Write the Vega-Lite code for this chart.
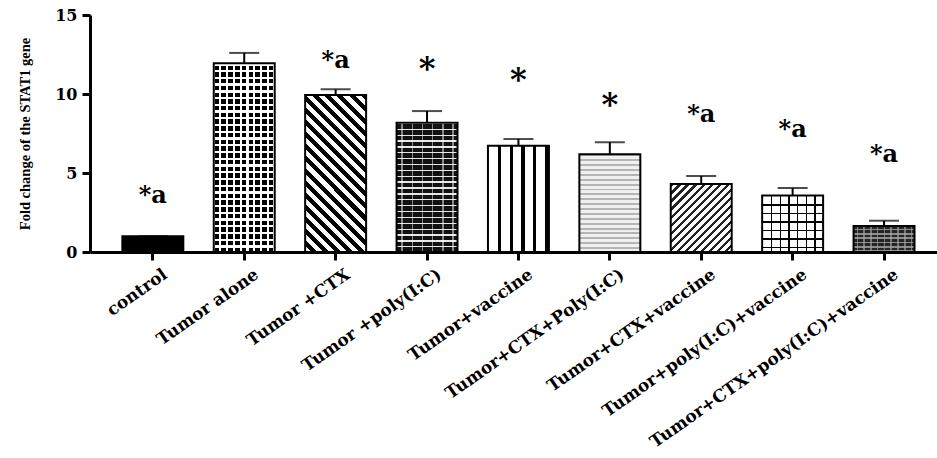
{
  "$schema": "https://vega.github.io/schema/vega-lite/v6.json",
  "width": 847,
  "height": 237,
  "autosize": "none",
  "padding": {"left": 90, "top": 15, "right": 0, "bottom": 206},
  "background": "white",
  "config": {"view": {"stroke": null}},
  "data": {
    "values": [
      {"group": "control", "value": 1.0, "upper": 1.0, "sig": "*a", "sig_y": 3.08},
      {"group": "Tumor alone", "value": 11.95, "upper": 12.6, "sig": "", "sig_y": null},
      {"group": "Tumor +CTX", "value": 9.94, "upper": 10.3, "sig": "*a", "sig_y": 11.63},
      {"group": "Tumor +poly(I:C)", "value": 8.18, "upper": 8.92, "sig": "*", "sig_y": 10.97},
      {"group": "Tumor+vaccine", "value": 6.73, "upper": 7.15, "sig": "*", "sig_y": 10.23},
      {"group": "Tumor+CTX+Poly(I:C)", "value": 6.18, "upper": 6.94, "sig": "*", "sig_y": 8.65},
      {"group": "Tumor+CTX+vaccine", "value": 4.3, "upper": 4.81, "sig": "*a", "sig_y": 8.25},
      {"group": "Tumor+poly(I:C)+vaccine", "value": 3.57, "upper": 4.05, "sig": "*a", "sig_y": 7.3},
      {"group": "Tumor+CTX+poly(I:C)+vaccine", "value": 1.65, "upper": 1.98, "sig": "*a", "sig_y": 5.7}
    ]
  },
  "encoding": {
    "x": {
      "field": "group",
      "type": "nominal",
      "scale": {
        "domain": ["control", "Tumor alone", "Tumor +CTX", "Tumor +poly(I:C)", "Tumor+vaccine", "Tumor+CTX+Poly(I:C)", "Tumor+CTX+vaccine", "Tumor+poly(I:C)+vaccine", "Tumor+CTX+poly(I:C)+vaccine"],
        "paddingInner": 0.333,
        "paddingOuter": 0.3,
        "align": 0.59
      },
      "axis": {
        "title": null,
        "labelAngle": -35,
        "labelAlign": "right",
        "labelBaseline": "top",
        "labelPadding": 6,
        "labelOffset": 8,
        "labelFont": "DejaVu Serif",
        "labelFontWeight": "bold",
        "labelFontSize": 17,
        "labelColor": "black",
        "labelLimit": 0,
        "labelOverlap": false,
        "tickSize": 8,
        "tickWidth": 3,
        "tickColor": "black",
        "domainColor": "black",
        "domainWidth": 3
      }
    },
    "y": {
      "field": "value",
      "type": "quantitative",
      "title": "Fold change of the STAT1 gene",
      "scale": {"domain": [0, 15], "nice": false},
      "axis": {
        "values": [0, 5, 10, 15],
        "grid": false,
        "tickSize": 8,
        "tickWidth": 3,
        "tickColor": "black",
        "domainColor": "black",
        "domainWidth": 3,
        "labelFont": "DejaVu Serif",
        "labelFontWeight": "bold",
        "labelFontSize": 16,
        "labelColor": "black",
        "labelPadding": 5,
        "titleFont": "Liberation Serif",
        "titleFontWeight": "bold",
        "titleFontSize": 14.5,
        "titleColor": "black",
        "titlePadding": 22
      }
    }
  },
  "layer": [
    {
      "transform": [{"filter": "datum.group === 'control'"}],
      "mark": {"type": "bar", "fill": "#000", "strokeWidth": 0}
    },
    {
      "transform": [{"filter": "datum.group === 'Tumor alone'"}],
      "mark": {"type": "bar", "strokeWidth": 0, "fill": {"gradient": "linear", "x1": 0, "y1": 0, "x2": 1, "y2": 0, "stops": [
        {"offset": 0, "color": "#fff"},
        {"offset": 0.015, "color": "#fff"}, {"offset": 0.015, "color": "#000"}, {"offset": 0.09, "color": "#000"}, {"offset": 0.09, "color": "#fff"},
        {"offset": 0.1261, "color": "#fff"}, {"offset": 0.1261, "color": "#000"}, {"offset": 0.2011, "color": "#000"}, {"offset": 0.2011, "color": "#fff"},
        {"offset": 0.2372, "color": "#fff"}, {"offset": 0.2372, "color": "#000"}, {"offset": 0.3122, "color": "#000"}, {"offset": 0.3122, "color": "#fff"},
        {"offset": 0.3483, "color": "#fff"}, {"offset": 0.3483, "color": "#000"}, {"offset": 0.4233, "color": "#000"}, {"offset": 0.4233, "color": "#fff"},
        {"offset": 0.4594, "color": "#fff"}, {"offset": 0.4594, "color": "#000"}, {"offset": 0.5344, "color": "#000"}, {"offset": 0.5344, "color": "#fff"},
        {"offset": 0.5706, "color": "#fff"}, {"offset": 0.5706, "color": "#000"}, {"offset": 0.6456, "color": "#000"}, {"offset": 0.6456, "color": "#fff"},
        {"offset": 0.6817, "color": "#fff"}, {"offset": 0.6817, "color": "#000"}, {"offset": 0.7567, "color": "#000"}, {"offset": 0.7567, "color": "#fff"},
        {"offset": 0.7928, "color": "#fff"}, {"offset": 0.7928, "color": "#000"}, {"offset": 0.8678, "color": "#000"}, {"offset": 0.8678, "color": "#fff"},
        {"offset": 0.9039, "color": "#fff"}, {"offset": 0.9039, "color": "#000"}, {"offset": 0.9789, "color": "#000"}, {"offset": 0.9789, "color": "#fff"},
        {"offset": 1, "color": "#fff"}
      ]}}
    },
    {
      "transform": [{"filter": "datum.group === 'Tumor alone'"}],
      "mark": {"type": "bar", "strokeWidth": 0, "fill": {"gradient": "linear", "x1": 0, "y1": 0, "x2": 0, "y2": 1, "stops": [
        {"offset": 0, "color": "#fff"}, {"offset": 0.0125, "color": "#fff"}, {"offset": 0.0125, "color": "rgba(255,255,255,0)"}, {"offset": 0.0357, "color": "rgba(255,255,255,0)"},
        {"offset": 0.0357, "color": "#fff"}, {"offset": 0.0482, "color": "#fff"}, {"offset": 0.0482, "color": "rgba(255,255,255,0)"}, {"offset": 0.0714, "color": "rgba(255,255,255,0)"},
        {"offset": 0.0714, "color": "#fff"}, {"offset": 0.0839, "color": "#fff"}, {"offset": 0.0839, "color": "rgba(255,255,255,0)"}, {"offset": 0.1071, "color": "rgba(255,255,255,0)"},
        {"offset": 0.1071, "color": "#fff"}, {"offset": 0.1196, "color": "#fff"}, {"offset": 0.1196, "color": "rgba(255,255,255,0)"}, {"offset": 0.1429, "color": "rgba(255,255,255,0)"},
        {"offset": 0.1429, "color": "#fff"}, {"offset": 0.1554, "color": "#fff"}, {"offset": 0.1554, "color": "rgba(255,255,255,0)"}, {"offset": 0.1786, "color": "rgba(255,255,255,0)"},
        {"offset": 0.1786, "color": "#fff"}, {"offset": 0.1911, "color": "#fff"}, {"offset": 0.1911, "color": "rgba(255,255,255,0)"}, {"offset": 0.2143, "color": "rgba(255,255,255,0)"},
        {"offset": 0.2143, "color": "#fff"}, {"offset": 0.2268, "color": "#fff"}, {"offset": 0.2268, "color": "rgba(255,255,255,0)"}, {"offset": 0.25, "color": "rgba(255,255,255,0)"},
        {"offset": 0.25, "color": "#fff"}, {"offset": 0.2625, "color": "#fff"}, {"offset": 0.2625, "color": "rgba(255,255,255,0)"}, {"offset": 0.2857, "color": "rgba(255,255,255,0)"},
        {"offset": 0.2857, "color": "#fff"}, {"offset": 0.2982, "color": "#fff"}, {"offset": 0.2982, "color": "rgba(255,255,255,0)"}, {"offset": 0.3214, "color": "rgba(255,255,255,0)"},
        {"offset": 0.3214, "color": "#fff"}, {"offset": 0.3339, "color": "#fff"}, {"offset": 0.3339, "color": "rgba(255,255,255,0)"}, {"offset": 0.3571, "color": "rgba(255,255,255,0)"},
        {"offset": 0.3571, "color": "#fff"}, {"offset": 0.3696, "color": "#fff"}, {"offset": 0.3696, "color": "rgba(255,255,255,0)"}, {"offset": 0.3929, "color": "rgba(255,255,255,0)"},
        {"offset": 0.3929, "color": "#fff"}, {"offset": 0.4054, "color": "#fff"}, {"offset": 0.4054, "color": "rgba(255,255,255,0)"}, {"offset": 0.4286, "color": "rgba(255,255,255,0)"},
        {"offset": 0.4286, "color": "#fff"}, {"offset": 0.4411, "color": "#fff"}, {"offset": 0.4411, "color": "rgba(255,255,255,0)"}, {"offset": 0.4643, "color": "rgba(255,255,255,0)"},
        {"offset": 0.4643, "color": "#fff"}, {"offset": 0.4768, "color": "#fff"}, {"offset": 0.4768, "color": "rgba(255,255,255,0)"}, {"offset": 0.5, "color": "rgba(255,255,255,0)"},
        {"offset": 0.5, "color": "#fff"}, {"offset": 0.5125, "color": "#fff"}, {"offset": 0.5125, "color": "rgba(255,255,255,0)"}, {"offset": 0.5357, "color": "rgba(255,255,255,0)"},
        {"offset": 0.5357, "color": "#fff"}, {"offset": 0.5482, "color": "#fff"}, {"offset": 0.5482, "color": "rgba(255,255,255,0)"}, {"offset": 0.5714, "color": "rgba(255,255,255,0)"},
        {"offset": 0.5714, "color": "#fff"}, {"offset": 0.5839, "color": "#fff"}, {"offset": 0.5839, "color": "rgba(255,255,255,0)"}, {"offset": 0.6071, "color": "rgba(255,255,255,0)"},
        {"offset": 0.6071, "color": "#fff"}, {"offset": 0.6196, "color": "#fff"}, {"offset": 0.6196, "color": "rgba(255,255,255,0)"}, {"offset": 0.6429, "color": "rgba(255,255,255,0)"},
        {"offset": 0.6429, "color": "#fff"}, {"offset": 0.6554, "color": "#fff"}, {"offset": 0.6554, "color": "rgba(255,255,255,0)"}, {"offset": 0.6786, "color": "rgba(255,255,255,0)"},
        {"offset": 0.6786, "color": "#fff"}, {"offset": 0.6911, "color": "#fff"}, {"offset": 0.6911, "color": "rgba(255,255,255,0)"}, {"offset": 0.7143, "color": "rgba(255,255,255,0)"},
        {"offset": 0.7143, "color": "#fff"}, {"offset": 0.7268, "color": "#fff"}, {"offset": 0.7268, "color": "rgba(255,255,255,0)"}, {"offset": 0.75, "color": "rgba(255,255,255,0)"},
        {"offset": 0.75, "color": "#fff"}, {"offset": 0.7625, "color": "#fff"}, {"offset": 0.7625, "color": "rgba(255,255,255,0)"}, {"offset": 0.7857, "color": "rgba(255,255,255,0)"},
        {"offset": 0.7857, "color": "#fff"}, {"offset": 0.7982, "color": "#fff"}, {"offset": 0.7982, "color": "rgba(255,255,255,0)"}, {"offset": 0.8214, "color": "rgba(255,255,255,0)"},
        {"offset": 0.8214, "color": "#fff"}, {"offset": 0.8339, "color": "#fff"}, {"offset": 0.8339, "color": "rgba(255,255,255,0)"}, {"offset": 0.8571, "color": "rgba(255,255,255,0)"},
        {"offset": 0.8571, "color": "#fff"}, {"offset": 0.8696, "color": "#fff"}, {"offset": 0.8696, "color": "rgba(255,255,255,0)"}, {"offset": 0.8929, "color": "rgba(255,255,255,0)"},
        {"offset": 0.8929, "color": "#fff"}, {"offset": 0.9054, "color": "#fff"}, {"offset": 0.9054, "color": "rgba(255,255,255,0)"}, {"offset": 0.9286, "color": "rgba(255,255,255,0)"},
        {"offset": 0.9286, "color": "#fff"}, {"offset": 0.9411, "color": "#fff"}, {"offset": 0.9411, "color": "rgba(255,255,255,0)"}, {"offset": 0.9643, "color": "rgba(255,255,255,0)"},
        {"offset": 0.9643, "color": "#fff"}, {"offset": 0.9768, "color": "#fff"}, {"offset": 0.9768, "color": "rgba(255,255,255,0)"}, {"offset": 1, "color": "rgba(255,255,255,0)"}
      ]}}
    },
    {
      "transform": [{"filter": "datum.group === 'Tumor +CTX'"}],
      "mark": {"type": "bar", "strokeWidth": 0, "fill": {"gradient": "linear", "x1": 1, "y1": 0, "x2": 0.5313, "y2": 1.2064, "stops": [
        {"offset": 0, "color": "#000"}, {"offset": 0.0278, "color": "#000"}, {"offset": 0.0278, "color": "#fff"}, {"offset": 0.0556, "color": "#fff"},
        {"offset": 0.0556, "color": "#000"}, {"offset": 0.0833, "color": "#000"}, {"offset": 0.0833, "color": "#fff"}, {"offset": 0.1111, "color": "#fff"},
        {"offset": 0.1111, "color": "#000"}, {"offset": 0.1389, "color": "#000"}, {"offset": 0.1389, "color": "#fff"}, {"offset": 0.1667, "color": "#fff"},
        {"offset": 0.1667, "color": "#000"}, {"offset": 0.1944, "color": "#000"}, {"offset": 0.1944, "color": "#fff"}, {"offset": 0.2222, "color": "#fff"},
        {"offset": 0.2222, "color": "#000"}, {"offset": 0.25, "color": "#000"}, {"offset": 0.25, "color": "#fff"}, {"offset": 0.2778, "color": "#fff"},
        {"offset": 0.2778, "color": "#000"}, {"offset": 0.3056, "color": "#000"}, {"offset": 0.3056, "color": "#fff"}, {"offset": 0.3333, "color": "#fff"},
        {"offset": 0.3333, "color": "#000"}, {"offset": 0.3611, "color": "#000"}, {"offset": 0.3611, "color": "#fff"}, {"offset": 0.3889, "color": "#fff"},
        {"offset": 0.3889, "color": "#000"}, {"offset": 0.4167, "color": "#000"}, {"offset": 0.4167, "color": "#fff"}, {"offset": 0.4444, "color": "#fff"},
        {"offset": 0.4444, "color": "#000"}, {"offset": 0.4722, "color": "#000"}, {"offset": 0.4722, "color": "#fff"}, {"offset": 0.5, "color": "#fff"},
        {"offset": 0.5, "color": "#000"}, {"offset": 0.5278, "color": "#000"}, {"offset": 0.5278, "color": "#fff"}, {"offset": 0.5556, "color": "#fff"},
        {"offset": 0.5556, "color": "#000"}, {"offset": 0.5833, "color": "#000"}, {"offset": 0.5833, "color": "#fff"}, {"offset": 0.6111, "color": "#fff"},
        {"offset": 0.6111, "color": "#000"}, {"offset": 0.6389, "color": "#000"}, {"offset": 0.6389, "color": "#fff"}, {"offset": 0.6667, "color": "#fff"},
        {"offset": 0.6667, "color": "#000"}, {"offset": 0.6944, "color": "#000"}, {"offset": 0.6944, "color": "#fff"}, {"offset": 0.7222, "color": "#fff"},
        {"offset": 0.7222, "color": "#000"}, {"offset": 0.75, "color": "#000"}, {"offset": 0.75, "color": "#fff"}, {"offset": 0.7778, "color": "#fff"},
        {"offset": 0.7778, "color": "#000"}, {"offset": 0.8056, "color": "#000"}, {"offset": 0.8056, "color": "#fff"}, {"offset": 0.8333, "color": "#fff"},
        {"offset": 0.8333, "color": "#000"}, {"offset": 0.8611, "color": "#000"}, {"offset": 0.8611, "color": "#fff"}, {"offset": 0.8889, "color": "#fff"},
        {"offset": 0.8889, "color": "#000"}, {"offset": 0.9167, "color": "#000"}, {"offset": 0.9167, "color": "#fff"}, {"offset": 0.9444, "color": "#fff"},
        {"offset": 0.9444, "color": "#000"}, {"offset": 0.9722, "color": "#000"}, {"offset": 0.9722, "color": "#fff"}, {"offset": 1, "color": "#fff"}
      ]}}
    },
    {
      "transform": [{"filter": "datum.group === 'Tumor +poly(I:C)'"}],
      "mark": {"type": "bar", "strokeWidth": 0, "fill": {"gradient": "linear", "x1": 0, "y1": 0, "x2": 0, "y2": 1, "stops": [
        {"offset": 0, "color": "#e6e6e6"}, {"offset": 0.0105, "color": "#e6e6e6"}, {"offset": 0.0105, "color": "#111"}, {"offset": 0.0455, "color": "#111"},
        {"offset": 0.0455, "color": "#e6e6e6"}, {"offset": 0.056, "color": "#e6e6e6"}, {"offset": 0.056, "color": "#111"}, {"offset": 0.0909, "color": "#111"},
        {"offset": 0.0909, "color": "#e6e6e6"}, {"offset": 0.1014, "color": "#e6e6e6"}, {"offset": 0.1014, "color": "#111"}, {"offset": 0.1364, "color": "#111"},
        {"offset": 0.1364, "color": "#e6e6e6"}, {"offset": 0.1469, "color": "#e6e6e6"}, {"offset": 0.1469, "color": "#111"}, {"offset": 0.1818, "color": "#111"},
        {"offset": 0.1818, "color": "#e6e6e6"}, {"offset": 0.1923, "color": "#e6e6e6"}, {"offset": 0.1923, "color": "#111"}, {"offset": 0.2273, "color": "#111"},
        {"offset": 0.2273, "color": "#e6e6e6"}, {"offset": 0.2378, "color": "#e6e6e6"}, {"offset": 0.2378, "color": "#111"}, {"offset": 0.2727, "color": "#111"},
        {"offset": 0.2727, "color": "#e6e6e6"}, {"offset": 0.2832, "color": "#e6e6e6"}, {"offset": 0.2832, "color": "#111"}, {"offset": 0.3182, "color": "#111"},
        {"offset": 0.3182, "color": "#e6e6e6"}, {"offset": 0.3287, "color": "#e6e6e6"}, {"offset": 0.3287, "color": "#111"}, {"offset": 0.3636, "color": "#111"},
        {"offset": 0.3636, "color": "#e6e6e6"}, {"offset": 0.3741, "color": "#e6e6e6"}, {"offset": 0.3741, "color": "#111"}, {"offset": 0.4091, "color": "#111"},
        {"offset": 0.4091, "color": "#e6e6e6"}, {"offset": 0.4196, "color": "#e6e6e6"}, {"offset": 0.4196, "color": "#111"}, {"offset": 0.4545, "color": "#111"},
        {"offset": 0.4545, "color": "#e6e6e6"}, {"offset": 0.465, "color": "#e6e6e6"}, {"offset": 0.465, "color": "#111"}, {"offset": 0.5, "color": "#111"},
        {"offset": 0.5, "color": "#e6e6e6"}, {"offset": 0.5105, "color": "#e6e6e6"}, {"offset": 0.5105, "color": "#111"}, {"offset": 0.5455, "color": "#111"},
        {"offset": 0.5455, "color": "#e6e6e6"}, {"offset": 0.556, "color": "#e6e6e6"}, {"offset": 0.556, "color": "#111"}, {"offset": 0.5909, "color": "#111"},
        {"offset": 0.5909, "color": "#e6e6e6"}, {"offset": 0.6014, "color": "#e6e6e6"}, {"offset": 0.6014, "color": "#111"}, {"offset": 0.6364, "color": "#111"},
        {"offset": 0.6364, "color": "#e6e6e6"}, {"offset": 0.6469, "color": "#e6e6e6"}, {"offset": 0.6469, "color": "#111"}, {"offset": 0.6818, "color": "#111"},
        {"offset": 0.6818, "color": "#e6e6e6"}, {"offset": 0.6923, "color": "#e6e6e6"}, {"offset": 0.6923, "color": "#111"}, {"offset": 0.7273, "color": "#111"},
        {"offset": 0.7273, "color": "#e6e6e6"}, {"offset": 0.7378, "color": "#e6e6e6"}, {"offset": 0.7378, "color": "#111"}, {"offset": 0.7727, "color": "#111"},
        {"offset": 0.7727, "color": "#e6e6e6"}, {"offset": 0.7832, "color": "#e6e6e6"}, {"offset": 0.7832, "color": "#111"}, {"offset": 0.8182, "color": "#111"},
        {"offset": 0.8182, "color": "#e6e6e6"}, {"offset": 0.8287, "color": "#e6e6e6"}, {"offset": 0.8287, "color": "#111"}, {"offset": 0.8636, "color": "#111"},
        {"offset": 0.8636, "color": "#e6e6e6"}, {"offset": 0.8741, "color": "#e6e6e6"}, {"offset": 0.8741, "color": "#111"}, {"offset": 0.9091, "color": "#111"},
        {"offset": 0.9091, "color": "#e6e6e6"}, {"offset": 0.9196, "color": "#e6e6e6"}, {"offset": 0.9196, "color": "#111"}, {"offset": 0.9545, "color": "#111"},
        {"offset": 0.9545, "color": "#e6e6e6"}, {"offset": 0.965, "color": "#e6e6e6"}, {"offset": 0.965, "color": "#111"}, {"offset": 1, "color": "#111"}
      ]}}
    },
    {
      "transform": [{"filter": "datum.group === 'Tumor +poly(I:C)'"}],
      "mark": {"type": "bar", "strokeWidth": 0, "fill": {"gradient": "linear", "x1": 0, "y1": 0, "x2": 1, "y2": 0, "stops": [
        {"offset": 0, "color": "rgba(255,255,255,0)"},
        {"offset": 0.08, "color": "rgba(255,255,255,0)"}, {"offset": 0.08, "color": "rgba(255,255,255,0.5)"}, {"offset": 0.105, "color": "rgba(255,255,255,0.5)"}, {"offset": 0.105, "color": "rgba(255,255,255,0)"},
        {"offset": 0.247, "color": "rgba(255,255,255,0)"}, {"offset": 0.247, "color": "rgba(255,255,255,0.5)"}, {"offset": 0.272, "color": "rgba(255,255,255,0.5)"}, {"offset": 0.272, "color": "rgba(255,255,255,0)"},
        {"offset": 0.413, "color": "rgba(255,255,255,0)"}, {"offset": 0.413, "color": "rgba(255,255,255,0.5)"}, {"offset": 0.438, "color": "rgba(255,255,255,0.5)"}, {"offset": 0.438, "color": "rgba(255,255,255,0)"},
        {"offset": 0.58, "color": "rgba(255,255,255,0)"}, {"offset": 0.58, "color": "rgba(255,255,255,0.5)"}, {"offset": 0.605, "color": "rgba(255,255,255,0.5)"}, {"offset": 0.605, "color": "rgba(255,255,255,0)"},
        {"offset": 0.747, "color": "rgba(255,255,255,0)"}, {"offset": 0.747, "color": "rgba(255,255,255,0.5)"}, {"offset": 0.772, "color": "rgba(255,255,255,0.5)"}, {"offset": 0.772, "color": "rgba(255,255,255,0)"},
        {"offset": 0.913, "color": "rgba(255,255,255,0)"}, {"offset": 0.913, "color": "rgba(255,255,255,0.5)"}, {"offset": 0.938, "color": "rgba(255,255,255,0.5)"}, {"offset": 0.938, "color": "rgba(255,255,255,0)"},
        {"offset": 1, "color": "rgba(255,255,255,0)"}
      ]}}
    },
    {
      "transform": [{"filter": "datum.group === 'Tumor+vaccine'"}],
      "mark": {"type": "bar", "strokeWidth": 0, "fill": {"gradient": "linear", "x1": 0, "y1": 0, "x2": 1, "y2": 0, "stops": [
        {"offset": 0, "color": "#fff"},
        {"offset": 0.164, "color": "#fff"}, {"offset": 0.164, "color": "#000"}, {"offset": 0.219, "color": "#000"}, {"offset": 0.219, "color": "#fff"},
        {"offset": 0.355, "color": "#fff"}, {"offset": 0.355, "color": "#000"}, {"offset": 0.41, "color": "#000"}, {"offset": 0.41, "color": "#fff"},
        {"offset": 0.546, "color": "#fff"}, {"offset": 0.546, "color": "#000"}, {"offset": 0.601, "color": "#000"}, {"offset": 0.601, "color": "#fff"},
        {"offset": 0.738, "color": "#fff"}, {"offset": 0.738, "color": "#000"}, {"offset": 0.792, "color": "#000"}, {"offset": 0.792, "color": "#fff"},
        {"offset": 0.93, "color": "#fff"}, {"offset": 0.93, "color": "#000"}, {"offset": 0.984, "color": "#000"}, {"offset": 0.984, "color": "#fff"},
        {"offset": 1, "color": "#fff"}
      ]}}
    },
    {
      "transform": [{"filter": "datum.group === 'Tumor+CTX+Poly(I:C)'"}],
      "mark": {"type": "bar", "strokeWidth": 0, "fill": {"gradient": "linear", "x1": 0, "y1": 0, "x2": 0, "y2": 1, "stops": [
        {"offset": 0, "color": "#b4b4b4"}, {"offset": 0.02, "color": "#b4b4b4"}, {"offset": 0.02, "color": "#f0f0f0"}, {"offset": 0.05, "color": "#f0f0f0"},
        {"offset": 0.05, "color": "#b4b4b4"}, {"offset": 0.07, "color": "#b4b4b4"}, {"offset": 0.07, "color": "#f0f0f0"}, {"offset": 0.1, "color": "#f0f0f0"},
        {"offset": 0.1, "color": "#b4b4b4"}, {"offset": 0.12, "color": "#b4b4b4"}, {"offset": 0.12, "color": "#f0f0f0"}, {"offset": 0.15, "color": "#f0f0f0"},
        {"offset": 0.15, "color": "#b4b4b4"}, {"offset": 0.17, "color": "#b4b4b4"}, {"offset": 0.17, "color": "#f0f0f0"}, {"offset": 0.2, "color": "#f0f0f0"},
        {"offset": 0.2, "color": "#b4b4b4"}, {"offset": 0.22, "color": "#b4b4b4"}, {"offset": 0.22, "color": "#f0f0f0"}, {"offset": 0.25, "color": "#f0f0f0"},
        {"offset": 0.25, "color": "#b4b4b4"}, {"offset": 0.27, "color": "#b4b4b4"}, {"offset": 0.27, "color": "#f0f0f0"}, {"offset": 0.3, "color": "#f0f0f0"},
        {"offset": 0.3, "color": "#b4b4b4"}, {"offset": 0.32, "color": "#b4b4b4"}, {"offset": 0.32, "color": "#f0f0f0"}, {"offset": 0.35, "color": "#f0f0f0"},
        {"offset": 0.35, "color": "#b4b4b4"}, {"offset": 0.37, "color": "#b4b4b4"}, {"offset": 0.37, "color": "#f0f0f0"}, {"offset": 0.4, "color": "#f0f0f0"},
        {"offset": 0.4, "color": "#b4b4b4"}, {"offset": 0.42, "color": "#b4b4b4"}, {"offset": 0.42, "color": "#f0f0f0"}, {"offset": 0.45, "color": "#f0f0f0"},
        {"offset": 0.45, "color": "#b4b4b4"}, {"offset": 0.47, "color": "#b4b4b4"}, {"offset": 0.47, "color": "#f0f0f0"}, {"offset": 0.5, "color": "#f0f0f0"},
        {"offset": 0.5, "color": "#b4b4b4"}, {"offset": 0.52, "color": "#b4b4b4"}, {"offset": 0.52, "color": "#f0f0f0"}, {"offset": 0.55, "color": "#f0f0f0"},
        {"offset": 0.55, "color": "#b4b4b4"}, {"offset": 0.57, "color": "#b4b4b4"}, {"offset": 0.57, "color": "#f0f0f0"}, {"offset": 0.6, "color": "#f0f0f0"},
        {"offset": 0.6, "color": "#b4b4b4"}, {"offset": 0.62, "color": "#b4b4b4"}, {"offset": 0.62, "color": "#f0f0f0"}, {"offset": 0.65, "color": "#f0f0f0"},
        {"offset": 0.65, "color": "#b4b4b4"}, {"offset": 0.67, "color": "#b4b4b4"}, {"offset": 0.67, "color": "#f0f0f0"}, {"offset": 0.7, "color": "#f0f0f0"},
        {"offset": 0.7, "color": "#b4b4b4"}, {"offset": 0.72, "color": "#b4b4b4"}, {"offset": 0.72, "color": "#f0f0f0"}, {"offset": 0.75, "color": "#f0f0f0"},
        {"offset": 0.75, "color": "#b4b4b4"}, {"offset": 0.77, "color": "#b4b4b4"}, {"offset": 0.77, "color": "#f0f0f0"}, {"offset": 0.8, "color": "#f0f0f0"},
        {"offset": 0.8, "color": "#b4b4b4"}, {"offset": 0.82, "color": "#b4b4b4"}, {"offset": 0.82, "color": "#f0f0f0"}, {"offset": 0.85, "color": "#f0f0f0"},
        {"offset": 0.85, "color": "#b4b4b4"}, {"offset": 0.87, "color": "#b4b4b4"}, {"offset": 0.87, "color": "#f0f0f0"}, {"offset": 0.9, "color": "#f0f0f0"},
        {"offset": 0.9, "color": "#b4b4b4"}, {"offset": 0.92, "color": "#b4b4b4"}, {"offset": 0.92, "color": "#f0f0f0"}, {"offset": 0.95, "color": "#f0f0f0"},
        {"offset": 0.95, "color": "#b4b4b4"}, {"offset": 0.97, "color": "#b4b4b4"}, {"offset": 0.97, "color": "#f0f0f0"}, {"offset": 1, "color": "#f0f0f0"}
      ]}}
    },
    {
      "transform": [{"filter": "datum.group === 'Tumor+CTX+vaccine'"}],
      "mark": {"type": "bar", "strokeWidth": 0, "fill": {"gradient": "linear", "x1": 0, "y1": 0, "x2": 0.943, "y2": 1.051, "stops": [
        {"offset": 0, "color": "#222"}, {"offset": 0.025, "color": "#222"}, {"offset": 0.025, "color": "#fff"}, {"offset": 0.0625, "color": "#fff"},
        {"offset": 0.0625, "color": "#222"}, {"offset": 0.0875, "color": "#222"}, {"offset": 0.0875, "color": "#fff"}, {"offset": 0.125, "color": "#fff"},
        {"offset": 0.125, "color": "#222"}, {"offset": 0.15, "color": "#222"}, {"offset": 0.15, "color": "#fff"}, {"offset": 0.1875, "color": "#fff"},
        {"offset": 0.1875, "color": "#222"}, {"offset": 0.2125, "color": "#222"}, {"offset": 0.2125, "color": "#fff"}, {"offset": 0.25, "color": "#fff"},
        {"offset": 0.25, "color": "#222"}, {"offset": 0.275, "color": "#222"}, {"offset": 0.275, "color": "#fff"}, {"offset": 0.3125, "color": "#fff"},
        {"offset": 0.3125, "color": "#222"}, {"offset": 0.3375, "color": "#222"}, {"offset": 0.3375, "color": "#fff"}, {"offset": 0.375, "color": "#fff"},
        {"offset": 0.375, "color": "#222"}, {"offset": 0.4, "color": "#222"}, {"offset": 0.4, "color": "#fff"}, {"offset": 0.4375, "color": "#fff"},
        {"offset": 0.4375, "color": "#222"}, {"offset": 0.4625, "color": "#222"}, {"offset": 0.4625, "color": "#fff"}, {"offset": 0.5, "color": "#fff"},
        {"offset": 0.5, "color": "#222"}, {"offset": 0.525, "color": "#222"}, {"offset": 0.525, "color": "#fff"}, {"offset": 0.5625, "color": "#fff"},
        {"offset": 0.5625, "color": "#222"}, {"offset": 0.5875, "color": "#222"}, {"offset": 0.5875, "color": "#fff"}, {"offset": 0.625, "color": "#fff"},
        {"offset": 0.625, "color": "#222"}, {"offset": 0.65, "color": "#222"}, {"offset": 0.65, "color": "#fff"}, {"offset": 0.6875, "color": "#fff"},
        {"offset": 0.6875, "color": "#222"}, {"offset": 0.7125, "color": "#222"}, {"offset": 0.7125, "color": "#fff"}, {"offset": 0.75, "color": "#fff"},
        {"offset": 0.75, "color": "#222"}, {"offset": 0.775, "color": "#222"}, {"offset": 0.775, "color": "#fff"}, {"offset": 0.8125, "color": "#fff"},
        {"offset": 0.8125, "color": "#222"}, {"offset": 0.8375, "color": "#222"}, {"offset": 0.8375, "color": "#fff"}, {"offset": 0.875, "color": "#fff"},
        {"offset": 0.875, "color": "#222"}, {"offset": 0.9, "color": "#222"}, {"offset": 0.9, "color": "#fff"}, {"offset": 0.9375, "color": "#fff"},
        {"offset": 0.9375, "color": "#222"}, {"offset": 0.9625, "color": "#222"}, {"offset": 0.9625, "color": "#fff"}, {"offset": 1, "color": "#fff"}
      ]}}
    },
    {
      "transform": [{"filter": "datum.group === 'Tumor+poly(I:C)+vaccine'"}],
      "mark": {"type": "bar", "strokeWidth": 0, "fill": {"gradient": "linear", "x1": 0, "y1": 0, "x2": 1, "y2": 0, "stops": [
        {"offset": 0, "color": "#fff"},
        {"offset": 0.143, "color": "#fff"}, {"offset": 0.143, "color": "#000"}, {"offset": 0.168, "color": "#000"}, {"offset": 0.168, "color": "#fff"},
        {"offset": 0.286, "color": "#fff"}, {"offset": 0.286, "color": "#000"}, {"offset": 0.311, "color": "#000"}, {"offset": 0.311, "color": "#fff"},
        {"offset": 0.429, "color": "#fff"}, {"offset": 0.429, "color": "#000"}, {"offset": 0.454, "color": "#000"}, {"offset": 0.454, "color": "#fff"},
        {"offset": 0.571, "color": "#fff"}, {"offset": 0.571, "color": "#000"}, {"offset": 0.596, "color": "#000"}, {"offset": 0.596, "color": "#fff"},
        {"offset": 0.714, "color": "#fff"}, {"offset": 0.714, "color": "#000"}, {"offset": 0.739, "color": "#000"}, {"offset": 0.739, "color": "#fff"},
        {"offset": 0.857, "color": "#fff"}, {"offset": 0.857, "color": "#000"}, {"offset": 0.882, "color": "#000"}, {"offset": 0.882, "color": "#fff"},
        {"offset": 1, "color": "#fff"}
      ]}}
    },
    {
      "transform": [{"filter": "datum.group === 'Tumor+poly(I:C)+vaccine'"}],
      "mark": {"type": "bar", "strokeWidth": 0, "fill": {"gradient": "linear", "x1": 0, "y1": 0, "x2": 0, "y2": 1, "stops": [
        {"offset": 0, "color": "rgba(0,0,0,0)"},
        {"offset": 0.151, "color": "rgba(0,0,0,0)"}, {"offset": 0.151, "color": "#000"}, {"offset": 0.178, "color": "#000"}, {"offset": 0.178, "color": "rgba(0,0,0,0)"},
        {"offset": 0.301, "color": "rgba(0,0,0,0)"}, {"offset": 0.301, "color": "#000"}, {"offset": 0.328, "color": "#000"}, {"offset": 0.328, "color": "rgba(0,0,0,0)"},
        {"offset": 0.452, "color": "rgba(0,0,0,0)"}, {"offset": 0.452, "color": "#000"}, {"offset": 0.479, "color": "#000"}, {"offset": 0.479, "color": "rgba(0,0,0,0)"},
        {"offset": 0.603, "color": "rgba(0,0,0,0)"}, {"offset": 0.603, "color": "#000"}, {"offset": 0.63, "color": "#000"}, {"offset": 0.63, "color": "rgba(0,0,0,0)"},
        {"offset": 0.754, "color": "rgba(0,0,0,0)"}, {"offset": 0.754, "color": "#000"}, {"offset": 0.781, "color": "#000"}, {"offset": 0.781, "color": "rgba(0,0,0,0)"},
        {"offset": 0.904, "color": "rgba(0,0,0,0)"}, {"offset": 0.904, "color": "#000"}, {"offset": 0.931, "color": "#000"}, {"offset": 0.931, "color": "rgba(0,0,0,0)"},
        {"offset": 1, "color": "rgba(0,0,0,0)"}
      ]}}
    },
    {
      "transform": [{"filter": "datum.group === 'Tumor+CTX+poly(I:C)+vaccine'"}],
      "mark": {"type": "bar", "strokeWidth": 0, "fill": {"gradient": "linear", "x1": 0, "y1": 0, "x2": 0, "y2": 1, "stops": [
        {"offset": 0, "color": "#262626"}, {"offset": 0.1, "color": "#262626"}, {"offset": 0.1, "color": "#8c8c8c"}, {"offset": 0.1667, "color": "#8c8c8c"},
        {"offset": 0.1667, "color": "#262626"}, {"offset": 0.2667, "color": "#262626"}, {"offset": 0.2667, "color": "#8c8c8c"}, {"offset": 0.3333, "color": "#8c8c8c"},
        {"offset": 0.3333, "color": "#262626"}, {"offset": 0.4333, "color": "#262626"}, {"offset": 0.4333, "color": "#8c8c8c"}, {"offset": 0.5, "color": "#8c8c8c"},
        {"offset": 0.5, "color": "#262626"}, {"offset": 0.6, "color": "#262626"}, {"offset": 0.6, "color": "#8c8c8c"}, {"offset": 0.6667, "color": "#8c8c8c"},
        {"offset": 0.6667, "color": "#262626"}, {"offset": 0.7667, "color": "#262626"}, {"offset": 0.7667, "color": "#8c8c8c"}, {"offset": 0.8333, "color": "#8c8c8c"},
        {"offset": 0.8333, "color": "#262626"}, {"offset": 0.9333, "color": "#262626"}, {"offset": 0.9333, "color": "#8c8c8c"}, {"offset": 1, "color": "#8c8c8c"}
      ]}}
    },
    {
      "transform": [{"filter": "datum.group === 'Tumor+CTX+poly(I:C)+vaccine'"}],
      "mark": {"type": "bar", "strokeWidth": 0, "fill": {"gradient": "linear", "x1": 0, "y1": 0, "x2": 1, "y2": 0, "stops": [
        {"offset": 0, "color": "rgba(170,170,170,0)"},
        {"offset": 0.05, "color": "rgba(170,170,170,0)"}, {"offset": 0.05, "color": "rgba(170,170,170,0.6)"}, {"offset": 0.075, "color": "rgba(170,170,170,0.6)"}, {"offset": 0.075, "color": "rgba(170,170,170,0)"},
        {"offset": 0.1611, "color": "rgba(170,170,170,0)"}, {"offset": 0.1611, "color": "rgba(170,170,170,0.6)"}, {"offset": 0.1861, "color": "rgba(170,170,170,0.6)"}, {"offset": 0.1861, "color": "rgba(170,170,170,0)"},
        {"offset": 0.2722, "color": "rgba(170,170,170,0)"}, {"offset": 0.2722, "color": "rgba(170,170,170,0.6)"}, {"offset": 0.2972, "color": "rgba(170,170,170,0.6)"}, {"offset": 0.2972, "color": "rgba(170,170,170,0)"},
        {"offset": 0.3833, "color": "rgba(170,170,170,0)"}, {"offset": 0.3833, "color": "rgba(170,170,170,0.6)"}, {"offset": 0.4083, "color": "rgba(170,170,170,0.6)"}, {"offset": 0.4083, "color": "rgba(170,170,170,0)"},
        {"offset": 0.4944, "color": "rgba(170,170,170,0)"}, {"offset": 0.4944, "color": "rgba(170,170,170,0.6)"}, {"offset": 0.5194, "color": "rgba(170,170,170,0.6)"}, {"offset": 0.5194, "color": "rgba(170,170,170,0)"},
        {"offset": 0.6056, "color": "rgba(170,170,170,0)"}, {"offset": 0.6056, "color": "rgba(170,170,170,0.6)"}, {"offset": 0.6306, "color": "rgba(170,170,170,0.6)"}, {"offset": 0.6306, "color": "rgba(170,170,170,0)"},
        {"offset": 0.7167, "color": "rgba(170,170,170,0)"}, {"offset": 0.7167, "color": "rgba(170,170,170,0.6)"}, {"offset": 0.7417, "color": "rgba(170,170,170,0.6)"}, {"offset": 0.7417, "color": "rgba(170,170,170,0)"},
        {"offset": 0.8278, "color": "rgba(170,170,170,0)"}, {"offset": 0.8278, "color": "rgba(170,170,170,0.6)"}, {"offset": 0.8528, "color": "rgba(170,170,170,0.6)"}, {"offset": 0.8528, "color": "rgba(170,170,170,0)"},
        {"offset": 0.9389, "color": "rgba(170,170,170,0)"}, {"offset": 0.9389, "color": "rgba(170,170,170,0.6)"}, {"offset": 0.9639, "color": "rgba(170,170,170,0.6)"}, {"offset": 0.9639, "color": "rgba(170,170,170,0)"},
        {"offset": 1, "color": "rgba(170,170,170,0)"}
      ]}}
    },
    {
      "mark": {"type": "bar", "fillOpacity": 0, "stroke": "#000", "strokeWidth": 2}
    },
    {
      "mark": {"type": "rule", "color": "#000", "strokeWidth": 2},
      "encoding": {
        "y": {"field": "value", "type": "quantitative", "title": "Fold change of the STAT1 gene"},
        "y2": {"field": "upper"}
      }
    },
    {
      "mark": {"type": "tick", "color": "#000", "thickness": 2, "size": 30},
      "encoding": {
        "y": {"field": "upper", "type": "quantitative", "title": "Fold change of the STAT1 gene"}
      }
    },
    {
      "transform": [{"filter": "datum.sig === '*a'"}],
      "mark": {"type": "text", "font": "DejaVu Serif", "fontWeight": "bold", "fontSize": 24, "baseline": "alphabetic", "align": "center", "color": "#000"},
      "encoding": {
        "y": {"field": "sig_y", "type": "quantitative", "title": "Fold change of the STAT1 gene"},
        "text": {"field": "sig"}
      }
    },
    {
      "transform": [{"filter": "datum.sig === '*'"}],
      "mark": {"type": "text", "font": "DejaVu Serif", "fontWeight": "bold", "fontSize": 32, "baseline": "alphabetic", "align": "center", "color": "#000"},
      "encoding": {
        "y": {"field": "sig_y", "type": "quantitative", "title": "Fold change of the STAT1 gene"},
        "text": {"field": "sig"}
      }
    }
  ]
}
